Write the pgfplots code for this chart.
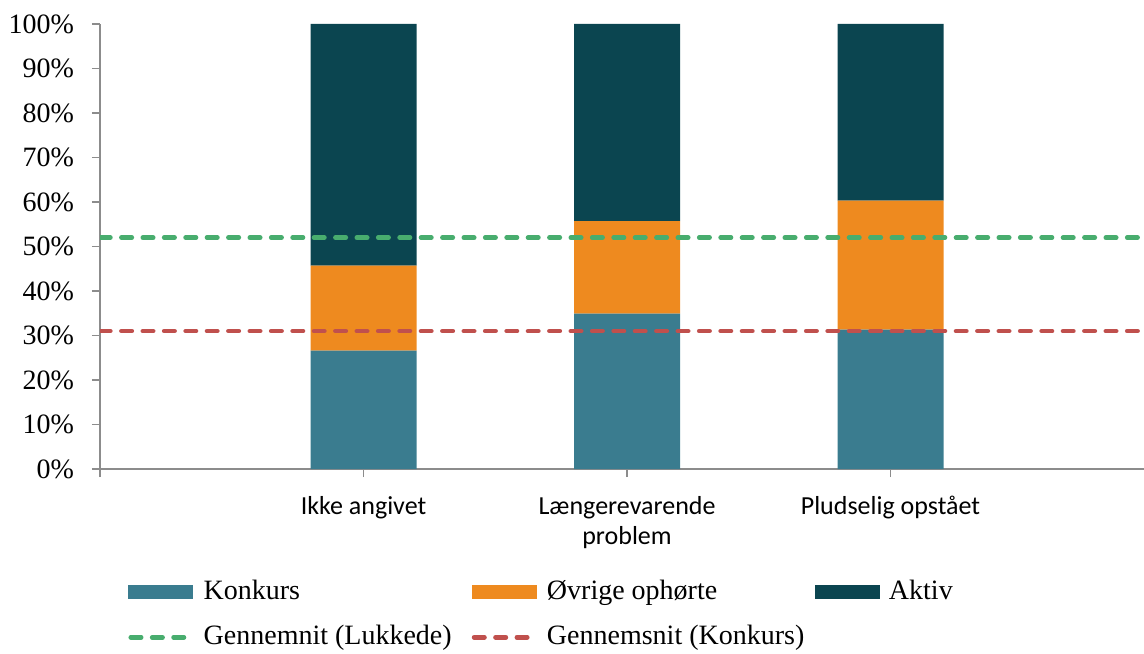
\documentclass[border=0pt]{standalone}
\usepackage{fontspec}
\setmainfont{Liberation Serif}
\newfontfamily\carlito{Carlito}
\usepackage{pgfplots}
\pgfplotsset{compat=1.18}
\definecolor{konk}{HTML}{3A7C8F}
\definecolor{ovr}{HTML}{EE8A1F}
\definecolor{akt}{HTML}{0B4550}
\definecolor{grn}{HTML}{48AD6E}
\definecolor{rd}{HTML}{C0504D}
\definecolor{axgray}{HTML}{8C8C8C}
\pgfplotsset{
  rectleg/.style={legend image code/.code={\fill[##1] (0pt,-3.5pt) rectangle (32.5pt,3.5pt);}},
  linleg/.style={legend image code/.code={\draw[##1] (1.2pt,0pt) -- (32pt,0pt);}},
  avgline/.style={line width=2.3pt, line cap=round, dash pattern=on 5.2pt off 5.5pt},
}
\begin{document}
\begin{tikzpicture}
\begin{axis}[name=ax,
  scale only axis, width=522pt, height=222.5pt,
  xmin=0, xmax=3.962, ymin=0, ymax=100,
  ybar stacked, bar width=53pt,
  axis x line*=bottom, axis y line*=left,
  axis line style={draw=axgray, line width=0.75pt, -},
  tick style={draw=axgray, line width=0.75pt},
  tick align=outside, major tick length=4pt,
  xtick={0,1,2,3},
  xticklabels={,Ikke angivet,{Længerevarende\\problem},Pludselig opstået},
  xticklabel style={font=\carlito\fontsize{13}{15}\selectfont, align=center, yshift=-6pt},
  ytick={0,10,...,100},
  yticklabel={\pgfmathprintnumber{\tick}\%},
  /pgf/number format/assume math mode=true,
  yticklabel style={font=\fontsize{14}{16}\selectfont, xshift=-5.5pt},
  legend columns=3,
  legend style={draw=none, fill=none, inner sep=0pt,
    at={(0.0268,-0.247)}, anchor=north west,
    font=\fontsize{14}{16}\selectfont,
    nodes={inner sep=0pt, text height=10pt, text depth=3pt},
    row sep=9.5pt,
    /tikz/every odd column/.append style={column sep=4.5pt},
    cells={anchor=west}},
  legend cell align=left,
]
\addplot[fill=konk, draw=none, rectleg]
  coordinates {(1,26.6) (2,34.9) (3,31.3)};
\addlegendentry{\makebox[134pt][l]{Konkurs}}
\addplot[fill=ovr, draw=none, rectleg]
  coordinates {(1,19.1) (2,20.8) (3,29.0)};
\addlegendentry{\makebox[134pt][l]{Øvrige ophørte}}
\addplot[fill=akt, draw=none, rectleg]
  coordinates {(1,54.3) (2,44.3) (3,39.7)};
\addlegendentry{Aktiv}
\addlegendimage{grn, avgline, linleg}
\addlegendentry{\makebox[134pt][l]{Gennemnit (Lukkede)}}
\addlegendimage{rd, avgline, linleg}
\addlegendentry{Gennemsnit (Konkurs)}
\end{axis}
\begin{axis}[
  scale only axis, width=522pt, height=222.5pt,
  xmin=0, xmax=3.962, ymin=0, ymax=100,
  hide axis,
]
\addplot[grn, avgline] coordinates {(0,52) (3.962,52)};
\addplot[rd, avgline] coordinates {(0,31) (3.962,31)};
\end{axis}
\pgfresetboundingbox
\path ([shift={(-50pt,-92pt)}]ax.south west) rectangle ([shift={(0pt,12pt)}]ax.north east);
\end{tikzpicture}
\end{document}
